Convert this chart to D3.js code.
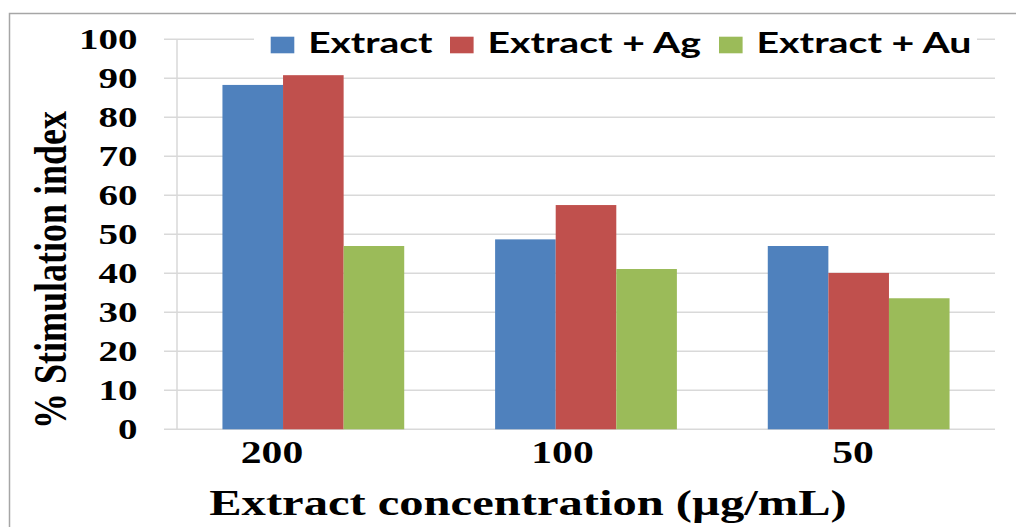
<!DOCTYPE html>
<html>
<head>
<meta charset="utf-8">
<script src="https://cdn.jsdelivr.net/npm/d3@7"></script>
<style>
  html, body { margin: 0; padding: 0; background: #fff; }
  svg { display: block; }
</style>
</head>
<body>
<svg id="chart" width="1016" height="527"></svg>
<script>
// Stimulation index for each extract concentration
const categories = ["200", "100", "50"];
const seriesNames = ["Extract", "Extract + Ag", "Extract + Au"];
const extractValues = [88.3, 48.7, 47.0];
const extractAgValues = [90.8, 57.5, 40.1];
const extractAuValues = [47.0, 41.1, 33.6];
const yTicks = [0, 10, 20, 30, 40, 50, 60, 70, 80, 90, 100];
const xTitle = "Extract concentration (\u00b5g/mL)";
const yTitle = "% Stimulation index";

const seriesValues = [extractValues, extractAgValues, extractAuValues];
const colors = ["#4f81bd", "#c0504d", "#9bbb59"];

const svg = d3.select("#chart");
const plot = { left: 177, right: 995, top: 39.3, bottom: 429.3 };
const SX = 1.3;          // horizontal stretch of the lettering
const serif = "'Liberation Serif', 'Times New Roman', serif";
const sans = "Lato, 'Open Sans', sans-serif";
const gridColor = "#d9d9d9";

// outer frame
svg.append("rect")
  .attr("x", 9.5).attr("y", 13.5)
  .attr("width", 1100).attr("height", 600)
  .attr("fill", "none").attr("stroke", "#a6a6a6").attr("stroke-width", 1.5);

const y = d3.scaleLinear().domain([0, 100]).range([plot.bottom, plot.top]);
const x0 = d3.scaleBand().domain(categories).range([plot.left, plot.right]).padding(0);
const x1 = d3.scaleBand().domain(seriesNames).range([0, x0.bandwidth()])
  .paddingInner(0).paddingOuter(0.75);

// horizontal gridlines with outside tick marks
svg.append("g")
  .selectAll("line")
  .data(yTicks)
  .join("line")
  .attr("x1", plot.left - 13).attr("x2", plot.right)
  .attr("y1", d => y(d)).attr("y2", d => y(d))
  .attr("stroke", gridColor).attr("stroke-width", 1.5);

// vertical axis line
svg.append("line")
  .attr("x1", plot.left).attr("x2", plot.left)
  .attr("y1", y(100)).attr("y2", y(0))
  .attr("stroke", gridColor).attr("stroke-width", 1.5);

// bars
const rows = categories.map((c, i) => ({ cat: c, vals: seriesNames.map((s, j) => ({ s, v: seriesValues[j][i], j })) }));
svg.append("g")
  .selectAll("g")
  .data(rows)
  .join("g")
  .attr("transform", d => `translate(${x0(d.cat)},0)`)
  .selectAll("rect")
  .data(d => d.vals)
  .join("rect")
  .attr("x", d => x1(d.s))
  .attr("width", x1.bandwidth())
  .attr("y", d => y(d.v))
  .attr("height", d => y(0) - y(d.v))
  .attr("fill", d => colors[d.j]);

// y tick labels
svg.append("g")
  .selectAll("text")
  .data(yTicks)
  .join("text")
  .attr("transform", d => `translate(137.5,${y(d) + 10}) scale(${SX},1)`)
  .attr("text-anchor", "end")
  .attr("font-family", serif).attr("font-weight", "bold").attr("font-size", 30)
  .attr("fill", "#000")
  .text(d => d);

// x tick labels
const xl = d3.scalePoint().domain(categories).range([272, 853]);
svg.append("g")
  .selectAll("text")
  .data(categories)
  .join("text")
  .attr("transform", d => `translate(${xl(d)},463.3) scale(${SX},1)`)
  .attr("text-anchor", "middle")
  .attr("font-family", serif).attr("font-weight", "bold").attr("font-size", 32)
  .attr("fill", "#000")
  .text(d => d);

// axis titles
svg.append("text")
  .attr("transform", `translate(528,515) scale(1.32,1)`)
  .attr("text-anchor", "middle")
  .attr("font-family", serif).attr("font-weight", "bold").attr("font-size", 36.8)
  .attr("fill", "#000")
  .text(xTitle);

svg.append("text")
  .attr("transform", `translate(66,270) scale(${SX},1) rotate(-90)`)
  .attr("text-anchor", "middle")
  .attr("font-family", serif).attr("font-weight", "bold").attr("font-size", 36)
  .attr("fill", "#000")
  .text(yTitle);

// legend
const legend = svg.append("g");
legend.append("rect")
  .attr("x", 254).attr("y", 24).attr("width", 723).attr("height", 36)
  .attr("fill", "#fff");
const legendX = [270.7, 450, 719];
const legendW = [124.4, 213.4, 215];
const items = legend.selectAll("g.item")
  .data(seriesNames)
  .join("g").attr("class", "item");
items.append("rect")
  .attr("x", (d, i) => legendX[i]).attr("y", 36.7)
  .attr("width", 23.6).attr("height", 16.6)
  .attr("fill", (d, i) => colors[i]);
items.append("text")
  .attr("x", (d, i) => legendX[i] + 37.5).attr("y", 53.3)
  .attr("font-family", sans).attr("font-weight", "bold").attr("font-size", 28)
  .attr("textLength", (d, i) => legendW[i]).attr("lengthAdjust", "spacingAndGlyphs")
  .attr("fill", "#000")
  .text(d => d);
</script>
</body>
</html>
